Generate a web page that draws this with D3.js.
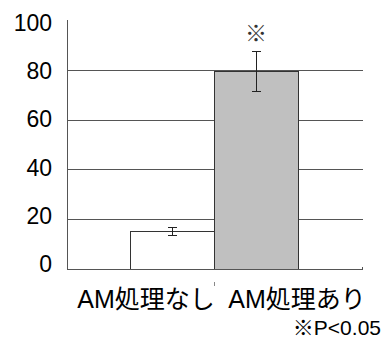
<!DOCTYPE html>
<html>
<head>
<meta charset="utf-8">
<script src="https://cdn.jsdelivr.net/npm/d3@7"></script>
<style>
  html, body { margin: 0; padding: 0; background: #fff; }
  svg text { font-family: "Liberation Sans", Arial, "Noto Sans CJK JP", sans-serif; fill: #000; }
</style>
</head>
<body>
<svg id="chart" width="390" height="345"></svg>
<script>
// Treatment groups and their means with error ranges
const categories = ["AM処理なし", "AM処理あり"];
const values = [15.3, 79.5];
const errors = [1.5, 8];
const significance = ["", "※"];
const yTicks = [0, 20, 40, 60, 80, 100];
const gridTicks = [20, 40, 60, 80];
const footnote = "※P<0.05";

const svg = d3.select("#chart");

const plot = { left: 67, right: 363, top: 20, bottom: 269 };

const y = d3.scaleLinear().domain([0, 100]).range([plot.bottom, plot.top]);
// tick labels sit on a slightly compressed spacing
const yLab = d3.scaleLinear().domain([0, 100]).range([263.5, 23]);

// bars touch each other in the middle of the plot
const xBar = d3.scaleBand().domain(categories).range([130, 298]).padding(0);
const xLab = d3.scalePoint().domain(categories).range([146, 297]);

const lineColor = "#555";

// horizontal gridlines
svg.append("g").selectAll("line").data(gridTicks).join("line")
  .attr("x1", plot.left).attr("x2", plot.right)
  .attr("y1", d => Math.round(y(d)) + 0.5).attr("y2", d => Math.round(y(d)) + 0.5)
  .attr("stroke", lineColor).attr("stroke-width", 1);

// bars
svg.append("g").selectAll("rect").data(categories).join("rect")
  .attr("x", d => Math.round(xBar(d)) + 0.5)
  .attr("y", (d, i) => Math.round(y(values[i])) + 0.5)
  .attr("width", xBar.bandwidth())
  .attr("height", (d, i) => Math.round(y(0)) - Math.round(y(values[i])))
  .attr("fill", (d, i) => i === 0 ? "#fff" : "#c0c0c0")
  .attr("stroke", "#333").attr("stroke-width", 1);

// error bars
const eb = svg.append("g").attr("stroke", "#222").attr("stroke-width", 1);
categories.forEach((c, i) => {
  const cx = Math.round(xBar(c) + xBar.bandwidth() / 2) + 0.5;
  const top = Math.round(y(values[i] + errors[i])) + 0.5;
  const bot = Math.round(y(values[i] - errors[i])) + 0.5;
  eb.append("line").attr("x1", cx).attr("x2", cx).attr("y1", top).attr("y2", bot);
  eb.append("line").attr("x1", cx - 4.5).attr("x2", cx + 4.5).attr("y1", top).attr("y2", top);
  eb.append("line").attr("x1", cx - 4.5).attr("x2", cx + 4.5).attr("y1", bot).attr("y2", bot);
});

// significance marks above the error bars
svg.append("g").selectAll("text").data(categories).join("text")
  .attr("x", d => xBar(d) + xBar.bandwidth() / 2)
  .attr("y", (d, i) => y(values[i] + errors[i]) - 10)
  .attr("text-anchor", "middle")
  .style("font-family", "'Noto Sans CJK JP', sans-serif")
  .style("font-size", "22px")
  .style("fill", "#333")
  .text((d, i) => significance[i]);

// axes lines
svg.append("line")
  .attr("x1", plot.left + 0.5).attr("x2", plot.left + 0.5)
  .attr("y1", plot.top).attr("y2", plot.bottom + 0.5)
  .attr("stroke", lineColor);
svg.append("line")
  .attr("x1", plot.left).attr("x2", plot.right)
  .attr("y1", plot.bottom + 0.5).attr("y2", plot.bottom + 0.5)
  .attr("stroke", lineColor);
svg.append("line")
  .attr("x1", plot.right - 0.5).attr("x2", plot.right - 0.5)
  .attr("y1", plot.bottom - 2).attr("y2", plot.bottom + 0.5)
  .attr("stroke", lineColor);

// y tick labels
svg.append("g").selectAll("text").data(yTicks).join("text")
  .attr("x", 52)
  .attr("y", d => yLab(d))
  .attr("dy", "0.36em")
  .attr("text-anchor", "end")
  .style("font-size", "23px")
  .text(d => d);

// category labels
svg.append("g").selectAll("text").data(categories).join("text")
  .attr("x", d => xLab(d))
  .attr("y", 308)
  .attr("text-anchor", "middle")
  .style("font-size", "25px")
  .text(d => d);

// small stray tick between the category labels
svg.append("line")
  .attr("x1", 214.5).attr("x2", 214.5).attr("y1", 282).attr("y2", 286)
  .attr("stroke", "#888");

// footnote
svg.append("text")
  .attr("x", 381).attr("y", 335)
  .attr("text-anchor", "end")
  .style("font-size", "21px")
  .text(footnote);
</script>
</body>
</html>
